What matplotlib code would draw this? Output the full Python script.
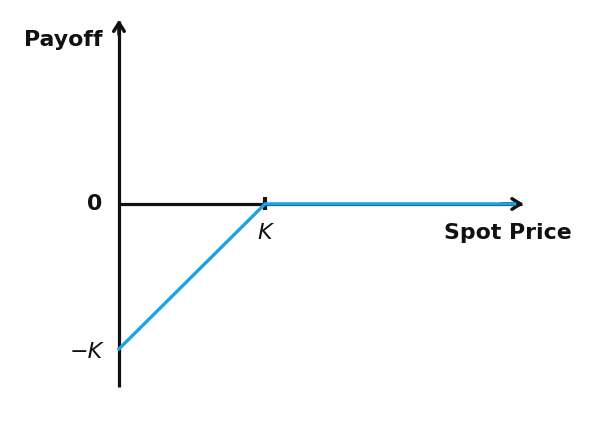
import matplotlib
matplotlib.use("Agg")
import matplotlib.pyplot as plt

# Data (strike K = 1)
spot = [0.0, 1.0, 2.71]
payoff = [-1.0, 0.0, 0.0]
strike = 1.0
x_ticks_labels = ["K"]
y_tick_labels = ["0", "\u2212K"]

fig = plt.figure(figsize=(5.98, 4.21), dpi=100)
ax = fig.add_axes([0, 0, 1, 1])
ax.set_xlim(-0.815, 3.281)
ax.set_ylim(-1.497, 1.407)
ax.axis("off")

black = "#111111"
blue = "#1BA3E6"

# axes with arrows
ax.plot([0, 0], [-1.26, 1.26], color=black, lw=2.3, solid_capstyle="butt", zorder=2)
ax.plot([0, 2.76], [0, 0], color=black, lw=2.3, solid_capstyle="butt", zorder=2)
ax.annotate("", xy=(0, 1.29), xytext=(0, 1.15),
            arrowprops=dict(arrowstyle="->,head_length=0.6,head_width=0.38", color=black, lw=2.5))
ax.annotate("", xy=(2.79, 0), xytext=(2.6, 0),
            arrowprops=dict(arrowstyle="->,head_length=0.6,head_width=0.38", color=black, lw=2.5))

# strike tick
ax.plot([strike, strike], [-0.04, 0.05], color=black, lw=3, solid_capstyle="butt", zorder=2)

# payoff line
ax.plot(spot, payoff, color=blue, lw=2.4, zorder=3, solid_joinstyle="miter")

bold = dict(fontweight="bold", family="DejaVu Sans", color=black)
ax.text(-0.11, 1.13, "Payoff", ha="right", va="center", fontsize=15.8, **bold)
ax.text(-0.17, 0.0, y_tick_labels[0], ha="center", va="center", fontsize=15.8, **bold)
ax.text(2.665, -0.2, "Spot Price", ha="center", va="center", fontsize=15.8, **bold)
ax.text(strike, -0.2, x_ticks_labels[0], ha="center", va="center", fontsize=16,
        style="italic", color=black, family="DejaVu Sans")
ax.text(-0.11, -1.02, y_tick_labels[1], ha="right", va="center", fontsize=16,
        style="italic", color=black, family="DejaVu Sans")

fig.savefig("out.png", dpi=100, facecolor="white")
